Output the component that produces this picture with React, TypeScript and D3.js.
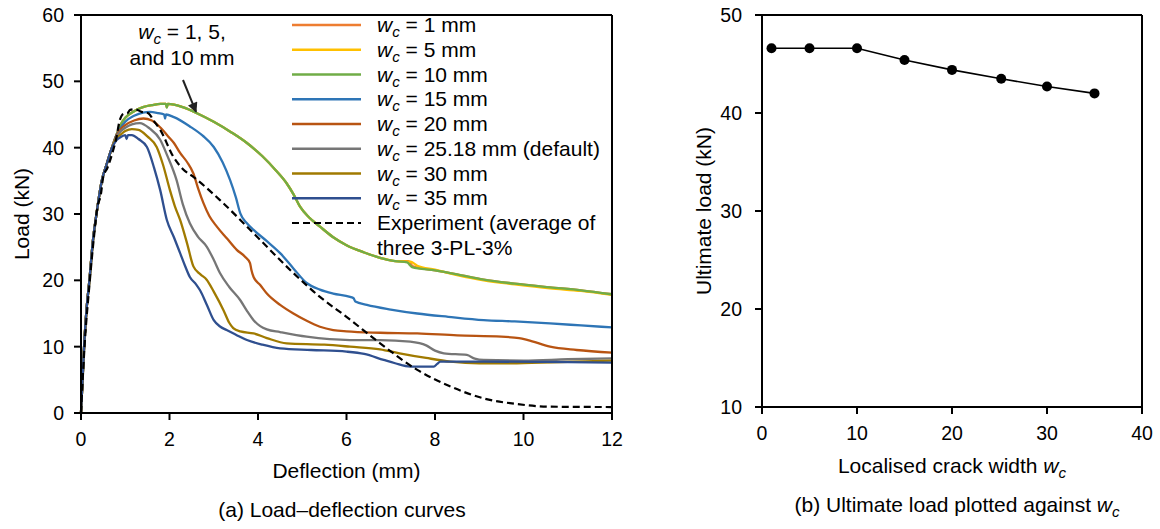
import React from 'react'
import * as d3 from 'd3'

type Pt = [number, number]

// rising branch shared by all simulated curves (deflection mm, load kN)
const risingBranch: Pt[] = [
  [0, 0], [0.07, 10], [0.13, 16], [0.19, 20], [0.27, 26], [0.35, 30],
  [0.47, 35], [0.58, 37.5], [0.69, 39.8],
]

const wc10: Pt[] = [
  [0.8, 41.9], [0.9, 43.5], [1.0, 44.5], [1.2, 45.5], [1.4, 46.1], [1.6, 46.4], [1.8, 46.6],
  [1.92, 46.6], [1.94, 46.0], [1.96, 46.6], [2.1, 46.5], [2.3, 46.1], [2.62, 45.2], [3.0, 43.9],
  [3.4, 42.3], [3.75, 40.7], [4.1, 38.7], [4.4, 36.6], [4.65, 34.6], [4.8, 33.0], [4.95, 31.1],
  [5.15, 29.5], [5.4, 28.1], [5.7, 26.5], [6.0, 25.3], [6.4, 24.2], [6.76, 23.4], [7.1, 22.9],
  [7.37, 22.7], [7.48, 22.0], [8.0, 21.5], [8.5, 20.9], [9.1, 20.1], [9.8, 19.5], [10.6, 18.95],
  [11.3, 18.5], [12, 17.9],
]
const wc1: Pt[] = [
  [0.8, 41.9], [0.9, 43.5], [1.0, 44.5], [1.2, 45.5], [1.4, 46.1], [1.6, 46.4], [1.8, 46.6],
  [1.92, 46.6], [1.94, 46.1], [1.96, 46.6], [2.1, 46.5], [2.3, 46.1], [2.62, 45.2], [3.0, 43.9],
  [3.4, 42.3], [3.75, 40.7], [4.1, 38.7], [4.4, 36.6], [4.65, 34.6], [4.8, 33.0], [4.95, 31.1],
  [5.15, 29.5], [5.4, 28.1], [5.7, 26.5], [6.0, 25.3], [6.4, 24.2], [6.76, 23.4], [7.1, 22.9],
  [7.4, 22.9], [7.5, 22.1], [8.0, 21.5], [8.5, 20.9], [9.1, 20.1], [9.8, 19.5], [10.6, 18.95],
  [11.3, 18.5], [12, 17.9],
]
const wc5: Pt[] = [
  [0.8, 41.9], [0.9, 43.5], [1.0, 44.5], [1.2, 45.5], [1.4, 46.1], [1.6, 46.4], [1.8, 46.6],
  [1.92, 46.6], [1.94, 46.1], [1.96, 46.6], [2.1, 46.5], [2.3, 46.1], [2.62, 45.2], [3.0, 43.9],
  [3.4, 42.3], [3.75, 40.7], [4.1, 38.7], [4.4, 36.6], [4.65, 34.6], [4.8, 33.0], [4.95, 31.1],
  [5.15, 29.5], [5.4, 28.1], [5.7, 26.5], [6.0, 25.3], [6.4, 24.2], [6.76, 23.4], [7.1, 22.9],
  [7.45, 22.8], [7.6, 22.2], [8.0, 21.6], [8.5, 20.8], [9.1, 20.0], [9.8, 19.4], [10.6, 18.8],
  [11.3, 18.4], [12, 17.8],
]
const wc15: Pt[] = [
  [0.8, 41.9], [0.9, 43.0], [1.0, 43.9], [1.2, 44.8], [1.4, 45.3], [1.56, 45.4], [1.75, 45.2],
  [1.88, 45.0], [1.9, 44.4], [1.92, 45.0], [2.1, 44.6], [2.46, 43.2], [2.75, 41.8], [3.0, 40.1],
  [3.2, 37.8], [3.37, 35.1], [3.5, 32.5], [3.6, 30.1], [3.75, 28.6], [3.9, 27.6], [4.2, 25.9],
  [4.5, 24.1], [4.8, 21.8], [5.1, 19.6], [5.4, 18.6], [5.7, 18.0], [6.08, 17.5], [6.16, 17.3],
  [6.2, 16.8], [6.46, 16.3], [7.0, 15.6], [7.6, 15.0], [8.3, 14.5], [9.1, 14.0], [9.8, 13.8],
  [10.6, 13.5], [11.3, 13.2], [12, 12.9],
]
const wc20: Pt[] = [
  [0.8, 41.8], [0.9, 42.8], [1.0, 43.4], [1.2, 44.1], [1.41, 44.4], [1.6, 44.1], [1.8, 43.0],
  [1.97, 41.7], [2.1, 40.7], [2.24, 39.2], [2.4, 37.8], [2.54, 36.1], [2.65, 33.8], [2.77, 31.6],
  [2.9, 29.7], [3.07, 28.1], [3.3, 26.3], [3.52, 24.6], [3.7, 23.6], [3.82, 22.6], [3.85, 21.6],
  [3.9, 20.5], [4.05, 19.3], [4.2, 18.0], [4.5, 16.3], [4.8, 15.0], [5.1, 13.9], [5.4, 13.0],
  [5.7, 12.5], [6.0, 12.3], [6.76, 12.1], [7.6, 12.0], [8.5, 11.7], [9.5, 11.5], [9.9, 11.3],
  [10.1, 11.0], [10.6, 10.0], [11.2, 9.5], [12, 9.1],
]
const wc25: Pt[] = [
  [0.8, 41.6], [0.9, 42.5], [1.0, 43.0], [1.15, 43.5], [1.33, 43.7], [1.55, 42.9], [1.79, 41.2],
  [1.95, 38.8], [2.16, 35.1], [2.3, 31.5], [2.46, 28.6], [2.64, 26.6], [2.84, 25.1], [3.0, 23.1],
  [3.14, 21.1], [3.35, 19.0], [3.6, 17.0], [3.75, 15.4], [3.9, 14.0], [4.05, 13.1], [4.2, 12.6],
  [4.5, 12.2], [5.1, 11.5], [6.08, 11.0], [6.76, 11.0], [7.44, 10.75], [7.8, 10.2], [8.0, 9.4],
  [8.2, 9.0], [8.72, 8.75], [8.9, 8.2], [9.1, 8.0], [10, 7.9], [11, 8.1], [12, 8.25],
]
const wc30: Pt[] = [
  [0.8, 41.4], [0.9, 42.0], [1.0, 42.5], [1.15, 42.8], [1.3, 42.7], [1.5, 41.7], [1.71, 40.1],
  [1.85, 37.5], [2.01, 33.6], [2.12, 31.2], [2.24, 29.1], [2.4, 25.5], [2.54, 22.1], [2.7, 20.9],
  [2.84, 20.1], [3.0, 18.3], [3.22, 15.5], [3.35, 13.6], [3.44, 12.8], [3.6, 12.3], [3.9, 12.0],
  [4.2, 11.3], [4.65, 10.5], [5.5, 10.3], [6.08, 10.0], [6.76, 9.6], [7.2, 9.0], [7.8, 8.3],
  [8.35, 7.75], [9.0, 7.5], [9.85, 7.5], [11, 7.7], [12, 7.9],
]
const wc35: Pt[] = [
  [0.8, 41.1], [0.9, 41.6], [1.0, 41.9], [1.03, 41.3], [1.06, 41.9], [1.15, 41.9], [1.3, 41.3],
  [1.49, 40.1], [1.65, 37.0], [1.79, 33.6], [1.94, 29.1], [2.1, 26.5], [2.24, 24.1], [2.35, 22.2],
  [2.46, 20.5], [2.6, 19.4], [2.69, 18.5], [2.85, 16.2], [3.0, 14.0], [3.15, 13.0], [3.29, 12.5],
  [3.5, 11.8], [3.75, 11.0], [4.1, 10.3], [4.5, 9.75], [5.2, 9.5], [6.0, 9.25], [6.4, 8.9],
  [6.84, 8.0], [7.1, 7.5], [7.44, 7.0], [7.97, 7.0], [8.05, 7.4], [8.12, 7.75], [9.1, 7.75],
  [10.5, 7.7], [12, 7.6],
]
const experiment: Pt[] = [
  [0, 0], [0.08, 10], [0.2, 20], [0.3, 27], [0.37, 31], [0.45, 33], [0.5, 35.5], [0.6, 37],
  [0.7, 39], [0.8, 41.5], [0.87, 44.0], [0.96, 45.1], [1.05, 45.2], [1.11, 45.7], [1.22, 45.8],
  [1.37, 45.4], [1.52, 45.2], [1.65, 44.0], [1.79, 42.7], [2.09, 38.6], [2.3, 36.8], [2.54, 35.6],
  [3.14, 32.1], [3.9, 27.1], [4.8, 21.1], [5.4, 17.5], [6.0, 14.5], [6.76, 10.5], [7.6, 6.5],
  [8.35, 4.0], [9.1, 2.2], [9.85, 1.35], [10.6, 0.95], [12, 0.9],
]

const seriesLabels = ['1 mm', '5 mm', '10 mm', '15 mm', '20 mm', '25.18 mm (default)', '30 mm', '35 mm']
const seriesColors = ['#ED7D31', '#FFC000', '#70AD47', '#2E75B6', '#B85412', '#767676', '#A07A00', '#2F4F8F']
const seriesData = [wc1, wc5, wc10, wc15, wc20, wc25, wc30, wc35]

const crackWidths = [1, 5, 10, 15, 20, 25.18, 30, 35]
const ultimateLoads = [46.6, 46.6, 46.6, 45.4, 44.4, 43.5, 42.7, 42.0]

const leftXTicks = [0, 2, 4, 6, 8, 10, 12]
const leftYTicks = [0, 10, 20, 30, 40, 50, 60]
const rightXTicks = [0, 10, 20, 30, 40]
const rightYTicks = [10, 20, 30, 40, 50]

const FONT = "'Liberation Sans', Arial, sans-serif"
const TICK_FS = 19.5
const TEXT_FS = 21

// italic w with subscript c, then the rest of the label
const Wc = ({ rest }: { rest: string }) => (
  <>
    <tspan fontStyle="italic">w</tspan>
    <tspan fontStyle="italic" fontSize="0.72em" dy={5}>c</tspan>
    {rest ? <tspan dy={-5}>{rest}</tspan> : null}
  </>
)

const App = () => {
  const W = 1160
  const H = 529

  // left panel
  const x1 = d3.scaleLinear().domain([0, 12]).range([81, 612])
  const y1 = d3.scaleLinear().domain([0, 60]).range([413, 15])
  const line1 = d3.line<Pt>().x(d => x1(d[0])).y(d => y1(d[1])).curve(d3.curveMonotoneX)

  // right panel
  const x2 = d3.scaleLinear().domain([0, 40]).range([762, 1142])
  const y2 = d3.scaleLinear().domain([10, 50]).range([407, 15])
  const line2 = d3.line<number>().x((d, i) => x2(crackWidths[i])).y(d => y2(d))

  const legX = 292
  const legRow = 24.75

  return (
    <svg width={W} height={H} style={{ position: 'absolute', left: 0, top: 0, background: '#fff' }}
      fontFamily={FONT}>
      <defs>
        <marker id="arr" viewBox="0 0 10 10" refX="9" refY="5" markerWidth="6" markerHeight="5"
          orient="auto" markerUnits="strokeWidth">
          <path d="M0,0 L10,5 L0,10 Z" fill="#222" />
        </marker>
      </defs>

      {/* ---------- (a) ---------- */}
      <g>
        {seriesData.map((s, i) => (
          <path key={i} d={line1(risingBranch.concat(s)) || ''}
            fill="none" stroke={seriesColors[i]} strokeWidth={2.3} strokeLinejoin="round" />
        ))}
        <path d={line1(experiment) || ''} fill="none" stroke="#000" strokeWidth={2.2}
          strokeDasharray="7 4" />

        {/* frame */}
        <line x1={x1(0)} x2={x1(12)} y1={y1(60)} y2={y1(60)} stroke="#000" strokeWidth={2} />
        <line x1={x1(12)} x2={x1(12)} y1={y1(60)} y2={y1(0)} stroke="#000" strokeWidth={2} />
        <line x1={x1(0)} x2={x1(12)} y1={y1(0)} y2={y1(0)} stroke="#000" strokeWidth={2} />
        <line x1={x1(0)} x2={x1(0)} y1={y1(60)} y2={y1(0)} stroke="#000" strokeWidth={2} />

        {leftXTicks.map(t => (
          <g key={t}>
            <line x1={x1(t)} x2={x1(t)} y1={y1(0)} y2={y1(0) + 7} stroke="#000" strokeWidth={2} />
            <text x={x1(t)} y={446} textAnchor="middle" fontSize={TICK_FS}>{t}</text>
          </g>
        ))}
        {leftYTicks.map(t => (
          <g key={t}>
            <line x1={x1(0) - 7} x2={x1(0)} y1={y1(t)} y2={y1(t)} stroke="#000" strokeWidth={2} />
            <text x={64} y={y1(t) + 7} textAnchor="end" fontSize={TICK_FS}>{t}</text>
          </g>
        ))}
        <text x={(x1(0) + x1(12)) / 2} y={478} textAnchor="middle" fontSize={TEXT_FS}>Deflection (mm)</text>
        <text transform={`translate(29,${(y1(0) + y1(60)) / 2}) rotate(-90)`} textAnchor="middle"
          fontSize={TEXT_FS}>Load (kN)</text>
        <text x={342} y={517} textAnchor="middle" fontSize={TEXT_FS}>(a) Load–deflection curves</text>

        {/* legend */}
        {seriesLabels.map((l, i) => (
          <g key={l}>
            <line x1={legX} x2={legX + 69} y1={25 + i * legRow} y2={25 + i * legRow}
              stroke={seriesColors[i]} strokeWidth={2.3} />
            <text x={377} y={25 + i * legRow + 7} fontSize={TEXT_FS}><Wc rest={` = ${l}`} /></text>
          </g>
        ))}
        <line x1={legX} x2={legX + 69} y1={25 + 8 * legRow} y2={25 + 8 * legRow}
          stroke="#000" strokeWidth={2.2} strokeDasharray="7 4" />
        <text x={377} y={25 + 8 * legRow + 7} fontSize={TEXT_FS}>Experiment (average of</text>
        <text x={377} y={25 + 9 * legRow + 7} fontSize={TEXT_FS}>three 3-PL-3%</text>

        {/* annotation */}
        <text x={182} y={39} textAnchor="middle" fontSize={TEXT_FS}><Wc rest=" = 1, 5," /></text>
        <text x={182} y={65} textAnchor="middle" fontSize={TEXT_FS}>and 10 mm</text>
        <line x1={183} y1={80} x2={x1(2.6)} y2={y1(45.4)} stroke="#222" strokeWidth={2}
          markerEnd="url(#arr)" />
      </g>

      {/* ---------- (b) ---------- */}
      <g>
        <line x1={x2(0)} x2={x2(40)} y1={y2(50)} y2={y2(50)} stroke="#000" strokeWidth={2} />
        <line x1={x2(40)} x2={x2(40)} y1={y2(50)} y2={y2(10)} stroke="#000" strokeWidth={2} />
        <line x1={x2(0)} x2={x2(40)} y1={y2(10)} y2={y2(10)} stroke="#000" strokeWidth={2} />
        <line x1={x2(0)} x2={x2(0)} y1={y2(50)} y2={y2(10)} stroke="#000" strokeWidth={2} />

        {rightXTicks.map(t => (
          <g key={t}>
            <line x1={x2(t)} x2={x2(t)} y1={y2(10)} y2={y2(10) + 7} stroke="#000" strokeWidth={2} />
            <text x={x2(t)} y={440} textAnchor="middle" fontSize={TICK_FS}>{t}</text>
          </g>
        ))}
        {rightYTicks.map(t => (
          <g key={t}>
            <line x1={x2(0) - 7} x2={x2(0)} y1={y2(t)} y2={y2(t)} stroke="#000" strokeWidth={2} />
            <text x={742} y={y2(t) + 7} textAnchor="end" fontSize={TICK_FS}>{t}</text>
          </g>
        ))}

        <path d={line2(ultimateLoads) || ''} fill="none" stroke="#000" strokeWidth={1.6} />
        {ultimateLoads.map((v, i) => (
          <circle key={i} cx={x2(crackWidths[i])} cy={y2(v)} r={5} fill="#000" />
        ))}

        <text x={(x2(0) + x2(40)) / 2} y={473} textAnchor="middle" fontSize={TEXT_FS}>
          Localised crack width <Wc rest="" />
        </text>
        <text transform={`translate(711,${(y2(10) + y2(50)) / 2}) rotate(-90)`} textAnchor="middle"
          fontSize={TEXT_FS}>Ultimate load (kN)</text>
        <text x={957} y={512} textAnchor="middle" fontSize={TEXT_FS}>
          (b) Ultimate load plotted against <Wc rest="" />
        </text>
      </g>
    </svg>
  )
}

export default App
